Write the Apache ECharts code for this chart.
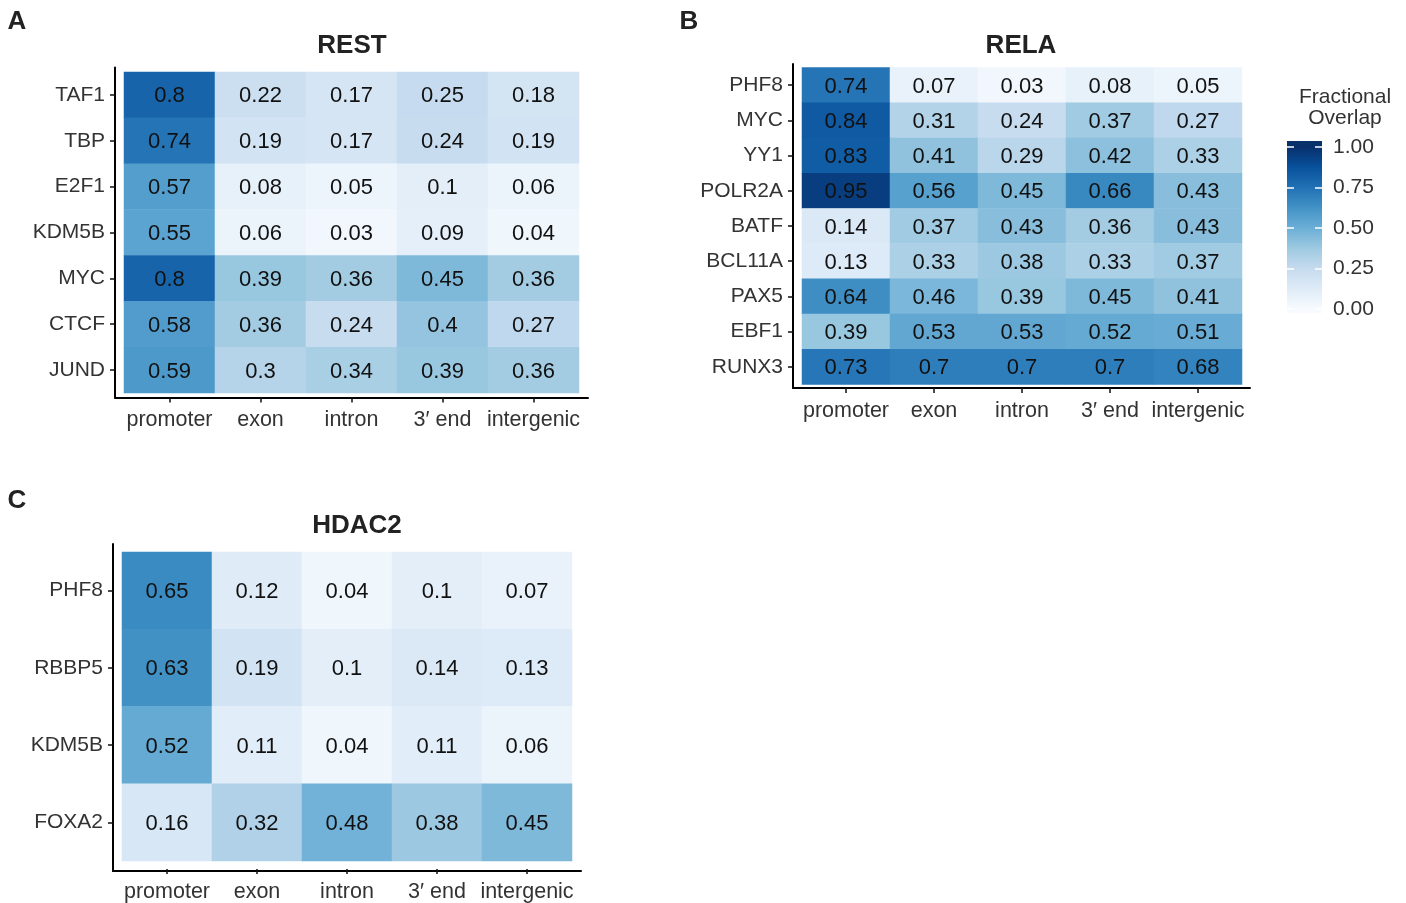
<!DOCTYPE html>
<html>
<head>
<meta charset="utf-8">
<script src="https://cdn.jsdelivr.net/npm/echarts@6/dist/echarts.min.js"></script>
<style>
html,body{margin:0;padding:0;background:#fff;}
#main{width:1406px;height:903px;}
</style>
</head>
<body>
<div id="main"></div>
<script>
// ---------- data ----------
const regions = ['promoter', 'exon', 'intron', '3\u2032 end', 'intergenic'];

const restFactors = ['TAF1', 'TBP', 'E2F1', 'KDM5B', 'MYC', 'CTCF', 'JUND'];
const restValues = [
  [0.8, 0.22, 0.17, 0.25, 0.18],
  [0.74, 0.19, 0.17, 0.24, 0.19],
  [0.57, 0.08, 0.05, 0.1, 0.06],
  [0.55, 0.06, 0.03, 0.09, 0.04],
  [0.8, 0.39, 0.36, 0.45, 0.36],
  [0.58, 0.36, 0.24, 0.4, 0.27],
  [0.59, 0.3, 0.34, 0.39, 0.36]
];

const relaFactors = ['PHF8', 'MYC', 'YY1', 'POLR2A', 'BATF', 'BCL11A', 'PAX5', 'EBF1', 'RUNX3'];
const relaValues = [
  [0.74, 0.07, 0.03, 0.08, 0.05],
  [0.84, 0.31, 0.24, 0.37, 0.27],
  [0.83, 0.41, 0.29, 0.42, 0.33],
  [0.95, 0.56, 0.45, 0.66, 0.43],
  [0.14, 0.37, 0.43, 0.36, 0.43],
  [0.13, 0.33, 0.38, 0.33, 0.37],
  [0.64, 0.46, 0.39, 0.45, 0.41],
  [0.39, 0.53, 0.53, 0.52, 0.51],
  [0.73, 0.7, 0.7, 0.7, 0.68]
];

const hdacFactors = ['PHF8', 'RBBP5', 'KDM5B', 'FOXA2'];
const hdacValues = [
  [0.65, 0.12, 0.04, 0.1, 0.07],
  [0.63, 0.19, 0.1, 0.14, 0.13],
  [0.52, 0.11, 0.04, 0.11, 0.06],
  [0.16, 0.32, 0.48, 0.38, 0.45]
];

const legendTicks = [0, 0.25, 0.5, 0.75, 1];
const palette = ['#f7fbff', '#deebf7', '#c6dbef', '#9ecae1', '#6baed6', '#4292c6', '#2171b5', '#08519c', '#08306b'];

// ---------- layout ----------
const FONT = '"Liberation Sans", Arial, Helvetica, sans-serif';
const panels = [
  { title: 'REST', letter: 'A', rows: restFactors, vals: restValues,
    tile: { left: 124, top: 72, width: 455, height: 321 },
    frame: { left: 115, top: 67.5, width: 473, height: 330 },
    titleX: 352, titleY: 46, letterPos: [17, 22] },
  { title: 'RELA', letter: 'B', rows: relaFactors, vals: relaValues,
    tile: { left: 802, top: 67.5, width: 440, height: 317 },
    frame: { left: 793, top: 64, width: 457, height: 324 },
    titleX: 1021, titleY: 46, letterPos: [689, 22] },
  { title: 'HDAC2', letter: 'C', rows: hdacFactors, vals: hdacValues,
    tile: { left: 122, top: 552, width: 450, height: 311 },
    frame: { left: 113, top: 544, width: 468, height: 327 },
    titleX: 357, titleY: 526, letterPos: [17, 501] }
];
const cb = { left: 1287, top: 147, width: 35, height: 162, extTop: 6, extBottom: 4 };

const grid = [], xAxis = [], yAxis = [], series = [], graphic = [];
const hiddenValueAxis = (gi, showLine, pos) => ({
  type: 'value', gridIndex: gi, min: 0, max: 1, position: pos,
  axisLine: { show: showLine, onZero: false, lineStyle: { color: '#000', width: 2 } },
  axisTick: { show: false }, axisLabel: { show: false }, splitLine: { show: false }
});

panels.forEach((p, i) => {
  const gTile = grid.length;
  grid.push(Object.assign({}, p.tile));
  const gFrame = grid.length;
  grid.push(Object.assign({}, p.frame));

  const xOff = (p.frame.top + p.frame.height) - (p.tile.top + p.tile.height);
  const yOff = p.tile.left - p.frame.left;

  const xi = xAxis.length;
  xAxis.push({
    type: 'category', gridIndex: gTile, data: regions, position: 'bottom', offset: xOff,
    axisLine: { show: false },
    axisTick: { show: true, alignWithLabel: true, length: 5, lineStyle: { color: '#111', width: 1.5 } },
    axisLabel: { color: '#333', fontSize: 21.5, fontFamily: FONT, margin: 12, interval: 0 },
    splitLine: { show: false }
  });
  xAxis.push(hiddenValueAxis(gFrame, true, 'bottom'));

  const yi = yAxis.length;
  yAxis.push({
    type: 'category', gridIndex: gTile, data: p.rows, inverse: true, position: 'left', offset: yOff,
    axisLine: { show: false },
    axisTick: { show: true, alignWithLabel: true, length: 5, lineStyle: { color: '#111', width: 1.5 } },
    axisLabel: { color: '#333', fontSize: 21, fontFamily: FONT, margin: 10, interval: 0, padding: [3, 0, 0, 0] },
    splitLine: { show: false }
  });
  yAxis.push(hiddenValueAxis(gFrame, true, 'left'));

  const data = [];
  p.vals.forEach((row, r) => row.forEach((v, c) => data.push([c, r, v])));
  series.push({
    type: 'heatmap', xAxisIndex: xi, yAxisIndex: yi, data: data,
    label: { show: true, color: '#111', fontSize: 22, fontFamily: FONT, offset: [0, 1.5], formatter: d => String(d.value[2]) },
    itemStyle: { borderWidth: 0 },
    emphasis: { disabled: true }
  });

  graphic.push({
    type: 'text', z: 10,
    style: { text: p.title, x: p.titleX, y: p.titleY,
      font: 'bold 26px ' + FONT, fill: '#222', align: 'center', verticalAlign: 'middle' }
  });
  graphic.push({
    type: 'text', z: 10,
    style: { text: p.letter, x: p.letterPos[0], y: p.letterPos[1],
      font: 'bold 26px ' + FONT, fill: '#222', align: 'center', verticalAlign: 'middle' }
  });
});

// ---------- colour bar legend ----------
const gCb = grid.length;
grid.push({ left: cb.left, top: cb.top, width: cb.width, height: cb.height });
xAxis.push(hiddenValueAxis(gCb, false, 'bottom'));
const cbTick = { show: true, inside: true, length: 7, lineStyle: { color: '#fff', width: 1.5 } };
yAxis.push({
  type: 'value', gridIndex: gCb, min: 0, max: 1, interval: 0.25, position: 'left', z: 10,
  axisLine: { show: false }, axisTick: cbTick, axisLabel: { show: false }, splitLine: { show: false }
});
yAxis.push({
  type: 'value', gridIndex: gCb, min: 0, max: 1, interval: 0.25, position: 'right', z: 10,
  axisLine: { show: false }, axisTick: cbTick,
  axisLabel: { show: true, color: '#333', fontSize: 21, fontFamily: FONT, margin: 11,
    formatter: v => legendTicks.indexOf(v) >= 0 ? v.toFixed(2) : '' },
  splitLine: { show: false }
});

const rectTop = cb.top - cb.extTop;
const rectH = cb.height + cb.extTop + cb.extBottom;
const stops = [];
stops.push({ offset: 0, color: palette[palette.length - 1] });
for (let k = palette.length - 1; k >= 0; k--) {
  const v = k / (palette.length - 1);
  const y = cb.top + cb.height * (1 - v);
  stops.push({ offset: (y - rectTop) / rectH, color: palette[k] });
}
stops.push({ offset: 1, color: palette[0] });
graphic.push({
  type: 'rect', z: -1,
  shape: { x: cb.left, y: rectTop, width: cb.width, height: rectH },
  style: { fill: new echarts.graphic.LinearGradient(0, 0, 0, 1, stops) }
});
graphic.push({
  type: 'text', z: 10,
  style: { text: 'Fractional', x: 1345, y: 97, font: '21px ' + FONT, fill: '#333', align: 'center', verticalAlign: 'middle' }
});
graphic.push({
  type: 'text', z: 10,
  style: { text: 'Overlap', x: 1345, y: 118, font: '21px ' + FONT, fill: '#333', align: 'center', verticalAlign: 'middle' }
});

const chart = echarts.init(document.getElementById('main'));
chart.setOption({
  backgroundColor: '#fff',
  animation: false,
  grid: grid,
  xAxis: xAxis,
  yAxis: yAxis,
  visualMap: { type: 'continuous', show: false, min: 0, max: 1, seriesIndex: [0, 1, 2], inRange: { color: palette } },
  series: series,
  graphic: graphic
});
</script>
</body>
</html>
